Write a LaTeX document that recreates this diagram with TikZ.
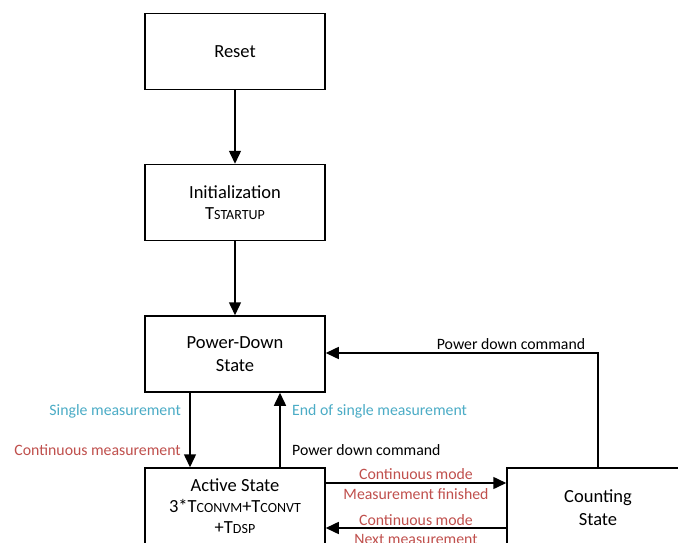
\documentclass[tikz,border=0pt]{standalone}
\usepackage{fontspec}
\setmainfont{Carlito}
\usetikzlibrary{arrows.meta}
\usetikzlibrary{calc}
\definecolor{lblue}{HTML}{4BACC6}
\definecolor{lred}{HTML}{C0504D}

\newcommand{\sub}[1]{{\fontsize{14}{16}\selectfont #1}}

\begin{document}
\begin{tikzpicture}[x=1pt, y=-1pt,
	box/.style = {draw, line width=1.5pt, minimum width=180pt, minimum height=76pt, align=center, font=\fontsize{18.5}{23}\selectfont},
	arr/.style = {line width=1.5pt, -{Triangle[length=13pt,width=12pt]}},
	lbl/.style = {font=\fontsize{15.8}{18}\selectfont, inner sep=0pt}]

	\useasboundingbox[fill=white] (0,0) rectangle (678,543);
	\clip (0,0) rectangle (678,543);

	\node[box] (reset) at (235,51.5) {Reset};
	\node[box] (init) at (235,202.5) {Initialization\\[-2pt]T\sub{STARTUP}};
	\node[box] (pd) at (235,354) {Power-Down\\State};
	\node[box, minimum height=76pt] (active) at (235,506) {Active State\\[-2pt]3*T\sub{CONVM}+T\sub{CONVT}\\[-2pt]+T\sub{DSP}};
	\node[box, minimum width=182pt, minimum height=80pt] (count) at (598,508) {Counting\\State};

	\draw[arr] (reset) -- (init);
	\draw[arr] (init) -- (pd);
	\draw[arr] ([xshift=-45pt]pd.south) -- ([xshift=-45pt]active.north);
	\draw[arr] ([xshift=45pt]active.north) -- ([xshift=45pt]pd.south);
	\draw[arr] (count.north) |- ([yshift=1pt]pd.east);
	\draw[arr] ([yshift=23pt]active.east) -- ([yshift=23pt]active.east -| count.west);
	\draw[arr] ([yshift=-22pt]active.east -| count.west) -- ([yshift=-22pt]active.east);

	\node[lbl, lblue, anchor=east] (single) at (181,411) {Single measurement};
	\node[lbl, lred, anchor=east] (cont) at (181,450) {Continuous measurement};
	\node[lbl, lblue, anchor=west] (endsingle) at (292,411) {End of single measurement};
	\node[lbl, anchor=west] (pdcmd) at (292,450) {Power down command};
	\node[lbl] (pdcmdtop) at (511,344) {Power down command};

	\node[lbl, lred] (contA) at (416,474) {Continuous mode};
	\node[lbl, lred] (finished) at (416,494) {Measurement finished};
	\node[lbl, lred] (contB) at (416,520) {Continuous mode};
	\node[lbl, lred] (next) at (416,539) {Next measurement};

\end{tikzpicture}
\end{document}
